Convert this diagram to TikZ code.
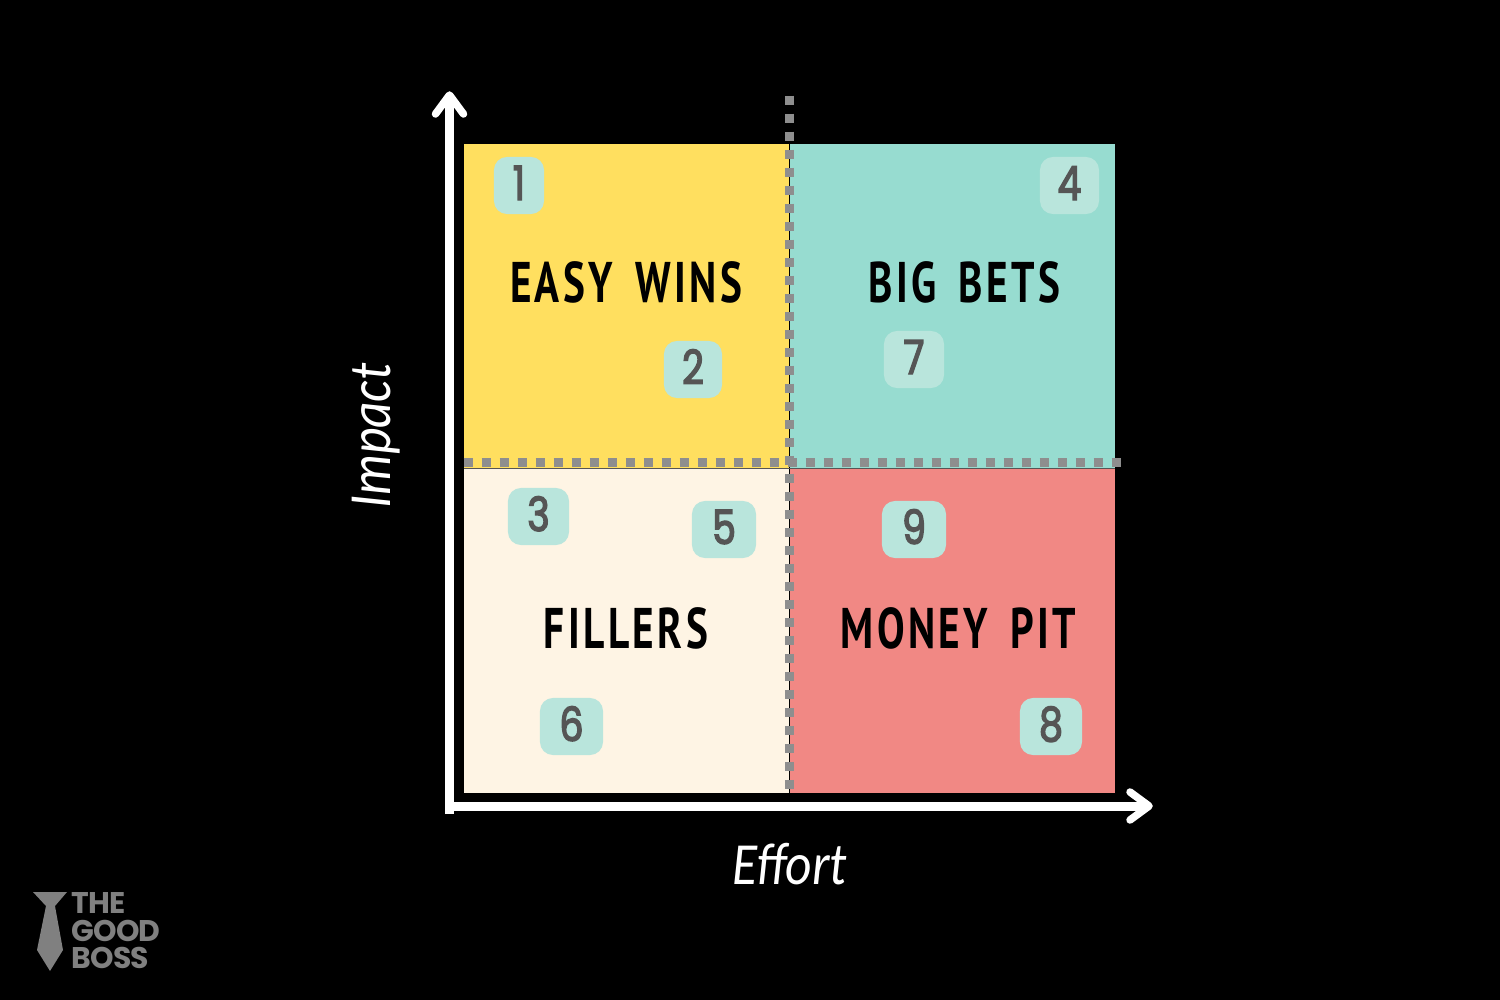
\documentclass[tikz,border=0pt]{standalone}
\usepackage{fontspec}
\newfontfamily\axisfont[FakeStretch=0.86]{Carlito}
\newfontfamily\titlefont[FakeStretch=0.72,LetterSpace=6,WordSpace=1.6]{PT Sans}
\newfontfamily\numfont[FakeStretch=0.8,FakeBold=3]{Poppins}
\newfontfamily\logofont[LetterSpace=-3]{Poppins}
\definecolor{easycol}{HTML}{FFDF5F}
\definecolor{betcol}{HTML}{97DCD0}
\definecolor{fillcol}{HTML}{FEF4E4}
\definecolor{pitcol}{HTML}{F18884}
\definecolor{badgecol}{HTML}{B9E5DC}
\definecolor{digitcol}{HTML}{555555}
\definecolor{dotcol}{HTML}{8E8E8E}
\definecolor{logocol}{HTML}{808080}
\tikzset{
  badge/.style={fill=badgecol,text=digitcol,rounded corners=0.13cm,minimum height=0.57cm,inner sep=0pt,text height=0.33cm,text depth=0.04cm,font=\numfont\fontsize{13.4}{15}\selectfont},
  quadlabel/.style={text=black,font=\titlefont\bfseries\fontsize{16.3}{18}\selectfont},
  axislabel/.style={text=white,font=\axisfont\itshape\fontsize{17}{19}\selectfont},
  axisline/.style={draw=white,line width=0.09cm},
  axishead/.style={draw=white,line width=0.075cm,line cap=round,line join=round},
  dotline/.style={draw=dotcol,line width=0.09cm,dash pattern=on 0.09cm off 0.09cm},
  logotext/.style={text=logocol,anchor=base west,inner sep=0pt,font=\logofont\bfseries\fontsize{8.5}{9}\selectfont}
}
\begin{document}
\begin{tikzpicture}[x=0.01cm,y=-0.01cm]
\fill[black] (0,0) rectangle (1500,1000);
\useasboundingbox (0,0) rectangle (1500,1000);

\fill[easycol] (464,144) rectangle (788.5,467.7);
\fill[betcol] (790,144) rectangle (1114.5,467.7);
\fill[fillcol] (464,468.5) rectangle (788.5,793);
\fill[pitcol] (790,468.5) rectangle (1114.5,793);
\draw[digitcol,line width=0.005cm] (464,468) -- (1114.5,468);

\coordinate (ybottom) at (449.5,814);
\coordinate (ytop) at (449.5,95);
\coordinate (yleft) at (435.5,114);
\coordinate (yright) at (463.5,114);
\coordinate (xleft) at (449.5,806);
\coordinate (xtip) at (1149,806);
\coordinate (xupper) at (1130,792);
\coordinate (xlower) at (1130,820);
\draw[axisline] (ybottom) -- (ytop);
\draw[axishead] (yleft) -- (ytop) -- (yright);
\draw[axisline] (xleft) -- (xtip);
\draw[axishead] (xupper) -- (xtip) -- (xlower);

\coordinate (vtop) at (789.7,95.5);
\coordinate (vbottom) at (789.7,789);
\coordinate (hleft) at (463.5,462);
\coordinate (hmid) at (783,462);
\coordinate (hmiddle) at (787.5,462);
\coordinate (hright) at (1120.5,462);
\draw[dotline] (hleft) -- (hmid);
\draw[dotline] (hmiddle) -- (hright);
\draw[dotline] (vtop) -- (vbottom);

\node[quadlabel] (easy) at (626,282) {EASY WINS};
\node[quadlabel] (bets) at (964.5,282) {BIG BETS};
\node[quadlabel] (fillers) at (626,628) {FILLERS};
\node[quadlabel] (pit) at (958.5,628) {MONEY PIT};

\node[badge,minimum width=0.50cm] (one) at (519,185.5) {1};
\node[badge,minimum width=0.58cm] (two) at (693,369.5) {2};
\node[badge,minimum width=0.61cm] (three) at (538.5,516.5) {3};
\node[badge,minimum width=0.59cm] (four) at (1069.5,185.5) {4};
\node[badge,minimum width=0.64cm] (five) at (724,529.5) {5};
\node[badge,minimum width=0.63cm] (six) at (571.5,726.5) {6};
\node[badge,minimum width=0.60cm] (seven) at (914,359.5) {7};
\node[badge,minimum width=0.62cm] (eight) at (1051,726.5) {8};
\node[badge,minimum width=0.64cm] (nine) at (914,529.5) {9};

\node[axislabel,rotate=90] (impact) at (376,436) {Impact};
\node[axislabel] (effort) at (790,864) {Effort};

\fill[logocol] (33,892) -- (67,892) -- (55,906) -- (63,950) -- (50,971) -- (37,950) -- (46,906) -- cycle;
\node[logotext] (the) at (71,913) {THE};
\node[logotext] (good) at (71,941) {GOOD};
\node[logotext] (boss) at (71,968) {BOSS};
\end{tikzpicture}
\end{document}
